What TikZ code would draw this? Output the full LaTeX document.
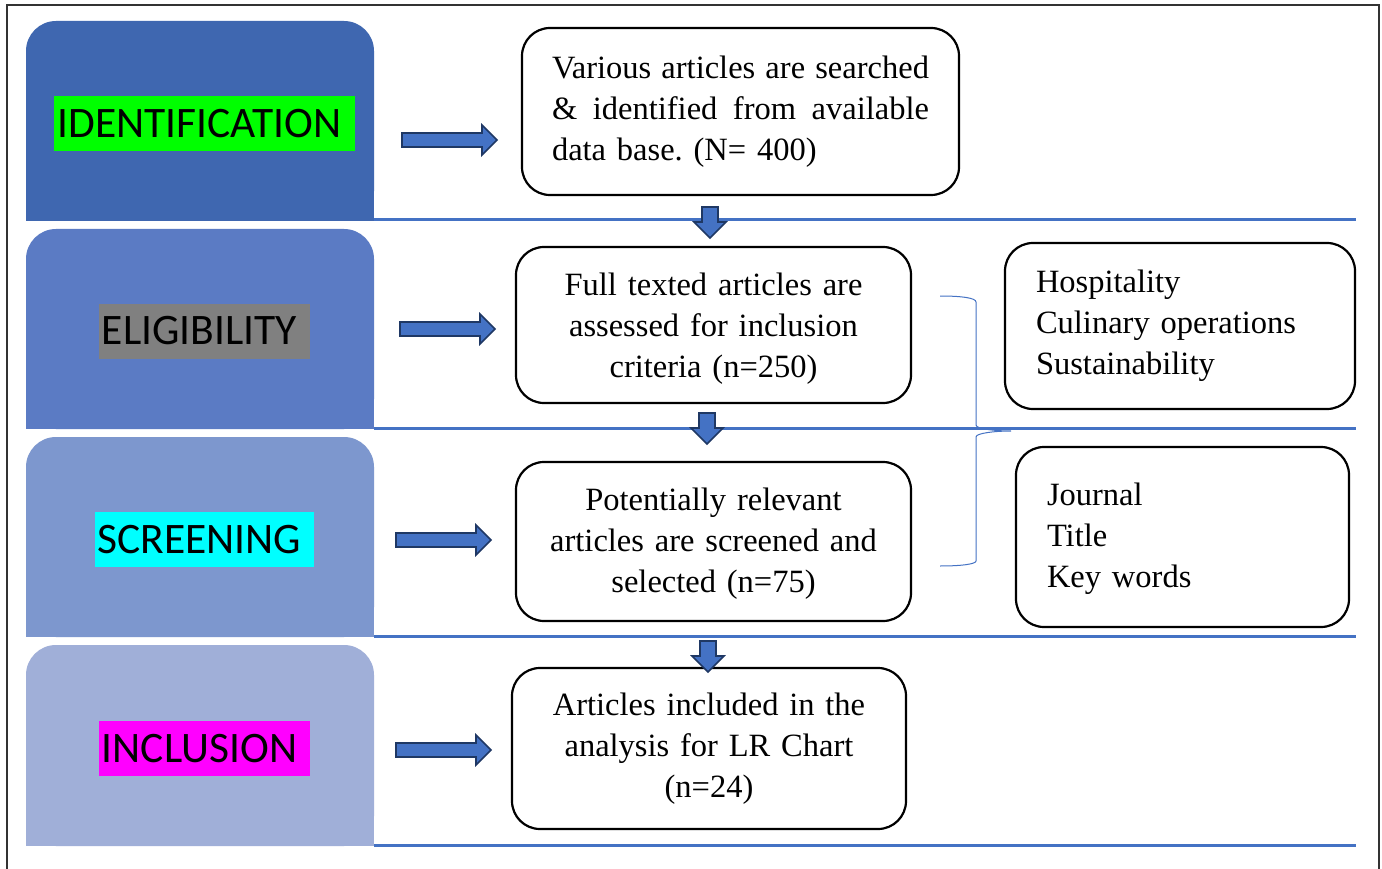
\documentclass[tikz,border=0pt]{standalone}
\usepackage{fontspec}
\setmainfont{Liberation Serif}
\newfontfamily\calibri{Carlito}
\definecolor{tabA}{HTML}{3F67B0}
\definecolor{tabB}{HTML}{5B7BC4}
\definecolor{tabC}{HTML}{7D97CE}
\definecolor{tabD}{HTML}{A0AFD8}
\definecolor{arrowblue}{HTML}{4472C4}
\definecolor{arrownavy}{HTML}{1F3864}
\definecolor{hlgreen}{HTML}{00FF00}
\definecolor{hlgray}{HTML}{808080}
\definecolor{hlcyan}{HTML}{00FFFF}
\definecolor{hlmag}{HTML}{FF00FF}
\frenchspacing
\begin{document}
\begin{tikzpicture}[x=1pt,y=-1pt,
  lbl/.style={font=\calibri\fontsize{43.5}{50}\selectfont, inner xsep=3pt, inner ysep=0pt, minimum height=55pt, text=black, anchor=center},
  box/.style={draw=black, line width=2.2pt, rounded corners=28pt, fill=white, inner ysep=0pt, font=\fontsize{32.5}{41}\selectfont},
  cbox/.style={box, align=center, text width=370pt, inner xsep=0pt},
  barrow/.style={fill=arrowblue, draw=arrownavy, line width=1.6pt, line join=miter},
  sepline/.style={draw=arrowblue, line width=3pt},
  bracestyle/.style={draw=arrowblue, line width=1pt},
  rblock/.pic={\path[barrow] (0,-7) -- (80,-7) -- (80,-15) -- (95,0) -- (80,15) -- (80,7) -- (0,7) -- cycle;},
  dblock/.pic={\path[barrow] (-8,0) -- (8,0) -- (8,15) -- (16,15) -- (0,31) -- (-16,15) -- (-8,15) -- cycle;}
]
\useasboundingbox (0,0) rectangle (1382,869);
\fill[white] (0,0) rectangle (1382,869);
% outer frame
\draw[draw=black!80, line width=1.2pt] (7,875) -- (7,5) -- (1379,5) -- (1379,875);

% tabs
\fill[tabA, rounded corners=30pt] (26,21) rectangle (374,221);
\fill[tabA] (26,121) rectangle (374,221);
\fill[tabB, rounded corners=30pt] (26,229) rectangle (374,429);
\fill[tabB] (26,329) rectangle (374,429);
\fill[tabC, rounded corners=30pt] (26,437) rectangle (374,637);
\fill[tabC] (26,537) rectangle (374,637);
\fill[tabD, rounded corners=30pt] (26,645) rectangle (374,846);
\fill[tabD] (26,745) rectangle (374,846);

% separator lines
\draw[sepline] (374,220) -- (1356,220);
\draw[sepline] (374,428) -- (1356,428);
\draw[sepline] (374,636) -- (1356,636);
\draw[sepline] (374,845) -- (1356,845);

% stage labels
\node[lbl, fill=hlgreen] (lid) at (204.5,123.5) {IDENTIFICATION\kern10pt};
\node[lbl, fill=hlgray] (lel) at (204.5,331) {ELIGIBILITY\kern10pt};
\node[lbl, fill=hlcyan] (lsc) at (204.5,539.5) {SCREENING\kern10pt};
\node[lbl, fill=hlmag] (lin) at (204.5,748.5) {INCLUSION\kern10pt};

% main boxes
\node[box, align=left, text width=377pt, inner xsep=30pt, minimum height=167pt] (b1) at (740.5,111.5)
  {\makebox[377pt][l]{Various\hfill articles\hfill are\hfill searched}\\\makebox[377pt][l]{\&\hfill identified\hfill from\hfill available}\\data base. (N= 400)};
\node[cbox, minimum width=395pt, minimum height=156pt] (b2) at (713.5,325)
  {\rule{0pt}{30pt}Full texted articles are\\assessed for inclusion\\criteria (n=250)};
\node[cbox, minimum width=395pt, minimum height=159pt] (b3) at (713.5,541.5)
  {\rule{0pt}{26pt}Potentially relevant\\articles are screened and\\selected (n=75)};
\node[cbox, minimum width=394pt, minimum height=161pt] (b4) at (709,748.5)
  {Articles included in the\\analysis for LR Chart\\(n=24)};

% side boxes
\node[box, align=left, text width=288pt, inner xsep=31pt, minimum height=166pt] (hosp) at (1180,326)
  {Hospitality\\Culinary operations\\Sustainability};
\node[box, align=left, text width=271pt, inner xsep=31pt, minimum height=180pt] (jour) at (1182.5,537)
  {\rule{0pt}{26pt}Journal\\Title\\Key words};

% right block arrows
\pic at (402,140) {rblock};
\pic at (400,329) {rblock};
\pic at (396,540) {rblock};
\pic at (396,750) {rblock};

% down block arrows
\pic at (710,207) {dblock};
\pic at (707,413) {dblock};
\pic at (708,641) {dblock};

% brace
\draw[bracestyle] (940,296) .. controls (962,296) and (976,298) .. (976,302)
  -- (976,425) .. controls (976,429) and (996,431) .. (1011,431)
  .. controls (996,431) and (976,433) .. (976,437)
  -- (976,561) .. controls (976,564) and (962,566) .. (940,566);
\end{tikzpicture}
\end{document}
